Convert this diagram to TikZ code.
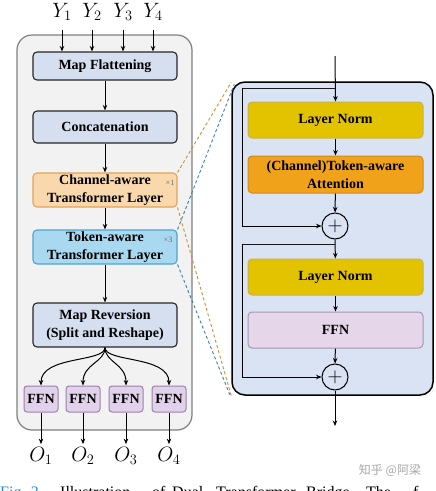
\documentclass[tikz,border=0pt]{standalone}
\usepackage{fontspec}
\setmainfont{Liberation Serif}
\newfontfamily\cjk{Noto Sans CJK SC}
\usetikzlibrary{arrows.meta,calc}
\definecolor{panelL}{HTML}{F2F2F2}
\definecolor{panelLb}{HTML}{7F7F7F}
\definecolor{mapfill}{HTML}{D6DFF0}
\definecolor{chfill}{HTML}{FAD8AE}
\definecolor{chdraw}{HTML}{E2A356}
\definecolor{tkfill}{HTML}{A9D9F1}
\definecolor{tkdraw}{HTML}{4EA3D3}
\definecolor{ffnfill}{HTML}{E2D1EA}
\definecolor{ffndraw}{HTML}{9A82A8}
\definecolor{panelR}{HTML}{DAE3F3}
\definecolor{lnfill}{HTML}{E3C300}
\definecolor{lndraw}{HTML}{C9B24A}
\definecolor{attfill}{HTML}{F0A21A}
\definecolor{attdraw}{HTML}{D08A20}
\definecolor{ffnRfill}{HTML}{E6D6EA}
\definecolor{ffnRdraw}{HTML}{A697B3}
\definecolor{dashO}{HTML}{CF8E2C}
\definecolor{dashB}{HTML}{3B7FAE}
\definecolor{figblue}{HTML}{2A8AD0}
\tikzset{
  lbl/.style={font=\bfseries\fontsize{14}{18}\selectfont, align=center, inner sep=0pt},
  mapbox/.style={lbl, draw=black!85, fill=mapfill, line width=1.1pt, rounded corners=4pt, minimum width=144pt},
  chbox/.style={lbl, draw=chdraw, fill=chfill, line width=1.1pt, rounded corners=4pt, minimum width=144pt, minimum height=34pt},
  tkbox/.style={lbl, draw=tkdraw, fill=tkfill, line width=1.1pt, rounded corners=4pt, minimum width=144pt, minimum height=34pt},
  ffnbox/.style={lbl, draw=ffndraw, fill=ffnfill, line width=1pt, rounded corners=3pt, minimum width=34pt, minimum height=26pt},
  rbox/.style={lbl, line width=1pt, rounded corners=4pt, minimum width=175pt, minimum height=36pt},
  arr/.style={-{Stealth[length=5.5pt,width=4.5pt]}, line width=1pt, black},
  plain/.style={line width=1pt, black!90},
  plus/.style={circle, draw=black, line width=1pt, fill=panelR, minimum size=26pt, inner sep=0pt, font=\fontsize{22}{22}\selectfont},
  mathlbl/.style={font=\fontsize{20}{20}\selectfont, inner sep=0pt},
  rep/.style={font=\fontsize{8}{9}\selectfont, text=black!60, inner sep=0pt},
  dashline/.style={dashed, dash pattern=on 3pt off 2.5pt, line width=0.9pt},
  capword/.style={font=\fontsize{16}{19}\selectfont, anchor=base west, inner sep=0pt}
}
\begin{document}
\begin{tikzpicture}[x=1pt,y=-1pt]
\useasboundingbox (0,0) rectangle (436,491);
\begin{scope}
\clip (0,0) rectangle (436,491);
% panels
\node[draw=panelLb, fill=panelL, line width=1.2pt, rounded corners=15pt, minimum width=175pt, minimum height=395pt, inner sep=0pt] (lp) at (104.5,232.5) {};
\node[draw=black, fill=panelR, line width=1.5pt, rounded corners=13pt, minimum width=201pt, minimum height=313pt, inner sep=0pt] (rp) at (332.5,238.5) {};

% left boxes
\node[mapbox, minimum height=28pt] (mf) at (105,66) {Map Flattening};
\node[mapbox, minimum height=32pt] (cc) at (105,127) {Concatenation};
\node[chbox] (ch) at (105,190) {Channel-aware\\Transformer Layer};
\node[tkbox] (tk) at (105,247) {Token-aware\\Transformer Layer};
\node[mapbox, minimum height=44pt] (mr) at (105,325) {Map Reversion\\(Split and Reshape)};
\node[rep] (ch1) at (170,183) {×1};
\node[rep] (tk3) at (168,240) {×3};

\node[ffnbox] (f1) at (41,399) {FFN};
\node[ffnbox] (f2) at (83,399) {FFN};
\node[ffnbox] (f3) at (126,399) {FFN};
\node[ffnbox] (f4) at (169,399) {FFN};

% inputs and outputs
\node[mathlbl] (y1) at (62,12) {$Y_1$};
\node[mathlbl] (y2) at (92,12) {$Y_2$};
\node[mathlbl] (y3) at (123,12) {$Y_3$};
\node[mathlbl] (y4) at (153,12) {$Y_4$};
\foreach \i in {1,2,3,4} {\draw[arr] ([yshift=-9pt]y\i.south) -- (y\i.south |- mf.north);}
\node[mathlbl] (o1) at (41,456) {$O_1$};
\node[mathlbl] (o2) at (83,456) {$O_2$};
\node[mathlbl] (o3) at (126,456) {$O_3$};
\node[mathlbl] (o4) at (169,456) {$O_4$};
\foreach \i in {1,2,3,4} {\draw[arr] (f\i.south) -- ([yshift=3pt]o\i.north);}

% left chain
\draw[arr] (mf) -- (cc);
\draw[arr] (cc) -- (ch);
\draw[arr] (ch) -- (tk);
\draw[arr] (tk) -- (mr);
\draw[arr] (mr.south) .. controls +(0,15) and +(0,-30) .. (f1.north);
\draw[arr] (mr.south) .. controls +(0,15) and +(0,-22) .. (f2.north);
\draw[arr] (mr.south) .. controls +(0,15) and +(0,-22) .. (f3.north);
\draw[arr] (mr.south) .. controls +(0,15) and +(0,-30) .. (f4.north);

% right boxes
\node[rbox, draw=lndraw, fill=lnfill] (ln1) at (335.5,120) {Layer Norm};
\node[rbox, draw=attdraw, fill=attfill, minimum height=37pt] (att) at (335.5,174.5) {(Channel)Token-aware\\Attention};
\node[plus] (p1) at (335,226) {$+$};
\node[rbox, draw=lndraw, fill=lnfill] (ln2) at (335.5,277) {Layer Norm};
\node[rbox, draw=ffnRdraw, fill=ffnRfill] (ffnr) at (335.5,330) {FFN};
\node[plus] (p2) at (335,377) {$+$};

\coordinate (in) at (335,56);
\coordinate (out) at (335,426);
\coordinate (r1) at (335,88);
\coordinate (r1a) at (242,88);
\coordinate (r2) at (335,244);
\coordinate (r2a) at (242,244);

\draw[arr] (in) -- (ln1.north);
\draw[arr] (ln1) -- (att);
\draw[arr] (att) -- (p1);
\draw[arr] (p1) -- (ln2);
\draw[arr] (ln2) -- (ffnr);
\draw[arr] (ffnr) -- (p2);
\draw[arr] (p2) -- (out);
\draw[plain] (r1) -- (r1a);
\draw[arr] (r1a) |- (p1.west);
\draw[plain] (r2) -- (r2a);
\draw[arr] (r2a) |- (p2.west);

% dashed links
\draw[dashline, dashO] (ch.north east) -- ([xshift=0pt,yshift=-1pt]rp.north west);
\draw[dashline, dashB] (tk.north east) -- ([xshift=3pt,yshift=-3pt]rp.north west);
\draw[dashline, dashO] (ch.south east) -- ([xshift=0pt,yshift=0pt]rp.south west);
\draw[dashline, dashB] (tk.south east) -- ([xshift=-1pt,yshift=0pt]rp.south west);

% watermark
\node[font=\cjk\fontsize{12}{14}\selectfont, text=black!35, inner sep=0pt] (wm) at (390,470) {知乎 @阿梁};

% caption line, cut off by the lower edge as in the reference
\node[capword, text=figblue] (c0) at (0,497) {Fig. 3.};
\node[capword] (c1) at (60,497) {Illustration};
\node[capword] (c2) at (152,497) {of};
\node[capword] (c3) at (172,497) {Dual};
\node[capword] (c4) at (216,497) {Transformer};
\node[capword] (c5) at (306,497) {Bridge.};
\node[capword] (c6) at (366,497) {The};
\node[capword] (c7) at (413,497) {f};
\end{scope}
\end{tikzpicture}
\end{document}
